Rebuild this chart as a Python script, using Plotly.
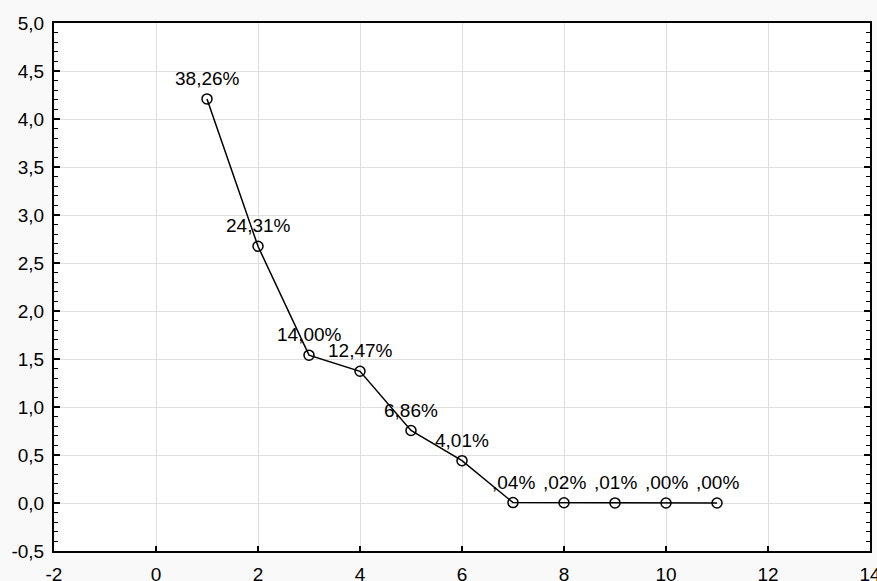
import plotly.graph_objects as go

factor_no = [1, 2, 3, 4, 5, 6, 7, 8, 9, 10, 11]
eigenvalues = [4.209, 2.674, 1.540, 1.372, 0.755, 0.441, 0.0044, 0.0022, 0.0011, 0.0, 0.0]
pct_variance = [38.26, 24.31, 14.00, 12.47, 6.86, 4.01, 0.04, 0.02, 0.01, 0.00, 0.00]

x_ticks = [-2, 0, 2, 4, 6, 8, 10, 12, 14]
x_ticklabels = ["-2", "0", "2", "4", "6", "8", "10", "12", "14"]
y_ticks = [-0.5, 0.0, 0.5, 1.0, 1.5, 2.0, 2.5, 3.0, 3.5, 4.0, 4.5, 5.0]
y_ticklabels = ["-0,5", "0,0", "0,5", "1,0", "1,5", "2,0", "2,5", "3,0", "3,5", "4,0", "4,5", "5,0"]


def fmt_pct(p):
    s = f"{p:.2f}".replace(".", ",")
    if s.startswith("0,"):
        s = s[1:]
    return s + "%"


labels = [fmt_pct(p) for p in pct_variance]

fig = go.Figure()
fig.add_trace(go.Scatter(
    x=factor_no, y=eigenvalues, mode="lines+markers",
    line=dict(color="black", width=1.5),
    marker=dict(symbol="circle-open", size=10, color="black", line=dict(width=1.5)),
    showlegend=False, hoverinfo="skip",
))

for xv, yv, t in zip(factor_no, eigenvalues, labels):
    fig.add_annotation(x=xv, y=yv, text=t, showarrow=False, xanchor="center",
                       yanchor="bottom", yshift=8,
                       font=dict(family="Liberation Sans, Arial", size=19, color="black"))

tickfont = dict(family="Liberation Sans, Arial", size=19, color="black")
fig.update_layout(
    width=877, height=581,
    margin=dict(l=54, r=7, t=23, b=30, autoexpand=False),
    paper_bgcolor="#f9f9f9", plot_bgcolor="white",
    xaxis=dict(range=[-2, 14], tickvals=x_ticks, ticktext=x_ticklabels, automargin=False,
               ticklabeloverflow="allow",
               showgrid=True, gridcolor="#dedede", gridwidth=1,
               zeroline=False, showline=True, linecolor="black", linewidth=2, mirror=True,
               ticks="inside", ticklen=5, tickcolor="black", tickwidth=1.5,
               tickfont=tickfont, ticklabelstandoff=5),
    yaxis=dict(range=[-0.5, 5.0], tickvals=y_ticks, ticktext=y_ticklabels, automargin=False,
               ticklabeloverflow="allow",
               showgrid=True, gridcolor="#dedede", gridwidth=1, zeroline=False, showline=True,
               linecolor="black", linewidth=2, mirror="ticks",
               ticks="inside", ticklen=6, tickcolor="black", tickwidth=1.5,
               minor=dict(dtick=0.1, tick0=0, ticks="inside", ticklen=4, tickcolor="black",
                          tickwidth=1, showgrid=False),
               tickfont=tickfont, ticklabelstandoff=4),
)

fig.write_html("out.html", config={"displayModeBar": False},
               post_script="document.body.style.margin='0';document.body.style.overflow='hidden';")
